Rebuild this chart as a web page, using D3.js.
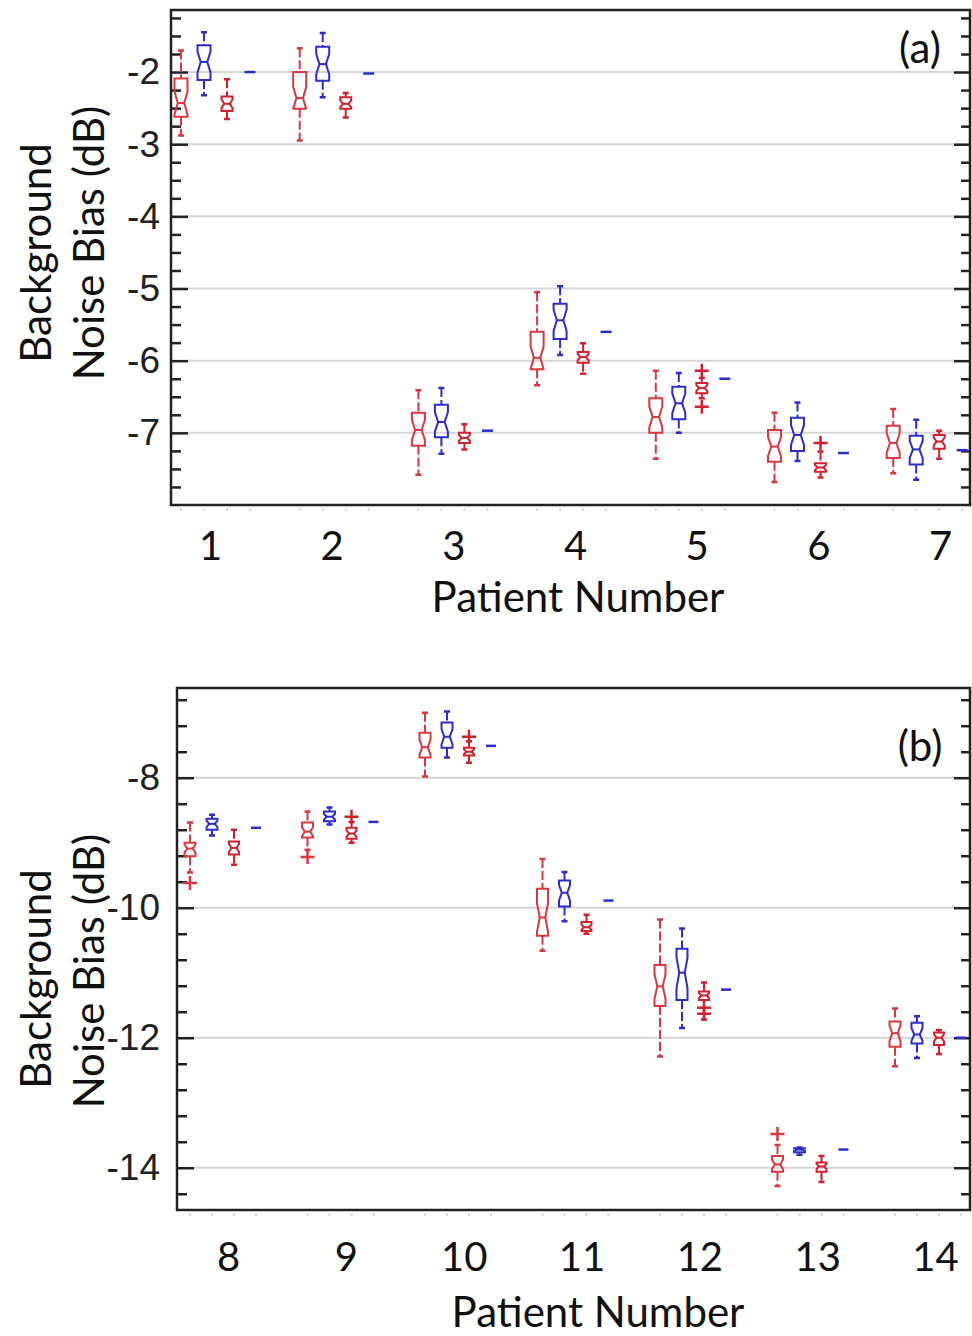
<!DOCTYPE html>
<html>
<head>
<meta charset="utf-8">
<script src="https://cdn.jsdelivr.net/npm/d3@7"></script>
<style>
body { margin: 0; background: #fff; }
svg { display: block; }
</style>
</head>
<body>
<script>
// ---- data ----------------------------------------------------------
// every box: [lower whisker, q1, median, q3, upper whisker]
var patientsA = [1, 2, 3, 4, 5, 6, 7];
var patientsB = [8, 9, 10, 11, 12, 13, 14];

var redA_a = [
    [-2.88, -2.62, -2.43, -2.09, -1.70],
    [-2.95, -2.51, -2.36, -2.00, -1.67],
    [-7.58, -7.18, -6.96, -6.72, -6.41],
    [-6.34, -6.12, -5.96, -5.60, -5.05],
    [-7.36, -7.00, -6.78, -6.52, -6.14],
    [-7.68, -7.40, -7.19, -6.96, -6.72],
    [-7.56, -7.35, -7.14, -6.90, -6.67]
];
var blueB_a = [
    [-2.32, -2.11, -1.86, -1.63, -1.45],
    [-2.35, -2.12, -1.89, -1.65, -1.46],
    [-7.29, -7.06, -6.85, -6.61, -6.38],
    [-5.92, -5.70, -5.44, -5.21, -4.97],
    [-7.00, -6.81, -6.59, -6.36, -6.17],
    [-7.39, -7.25, -7.03, -6.79, -6.58],
    [-7.65, -7.44, -7.23, -7.04, -6.82]
];
var redC_a = [
    [-2.65, -2.54, -2.44, -2.34, -2.10],
    [-2.63, -2.51, -2.44, -2.35, -2.29],
    [-7.23, -7.14, -7.07, -7.00, -6.88],
    [-6.18, -6.03, -5.95, -5.88, -5.76],
    [-6.52, -6.45, -6.38, -6.31, -6.24],
    [-7.62, -7.54, -7.48, -7.42, -7.26],
    [-7.36, -7.22, -7.12, -7.03, -6.97]
];
var outRedC_a = [[], [], [], [], [-6.14, -6.64], [-7.14], []];
var dashD_a = [-2.00, -2.02, -6.97, -5.60, -6.25, -7.28, -7.24];

var redA_b = [
    [-9.46, -9.21, -9.09, -9.00, -8.69],
    [-9.11, -8.92, -8.83, -8.69, -8.52],
    [-7.98, -7.69, -7.53, -7.31, -7.00],
    [-10.66, -10.43, -10.15, -9.71, -9.25],
    [-12.29, -11.51, -11.21, -10.88, -10.18],
    [-14.28, -14.06, -13.95, -13.82, -13.65],
    [-12.44, -12.14, -11.93, -11.75, -11.55]
];
var outRedA_b = [[-9.62], [-9.22], [], [], [], [-13.48], []];
var blueB_b = [
    [-8.89, -8.80, -8.71, -8.63, -8.57],
    [-8.72, -8.67, -8.60, -8.52, -8.46],
    [-7.69, -7.54, -7.37, -7.15, -6.98],
    [-10.21, -9.98, -9.77, -9.58, -9.45],
    [-11.85, -11.42, -11.00, -10.63, -10.32],
    [-13.80, -13.76, -13.72, -13.70, -13.69],
    [-12.31, -12.09, -11.95, -11.77, -11.67]
];
var redC_b = [
    [-9.34, -9.18, -9.08, -8.98, -8.80],
    [-9.00, -8.94, -8.86, -8.77, -8.68],
    [-7.77, -7.66, -7.60, -7.54, -7.44],
    [-10.40, -10.36, -10.30, -10.22, -10.11],
    [-11.72, -11.42, -11.35, -11.29, -11.15],
    [-14.22, -14.06, -13.98, -13.92, -13.82],
    [-12.25, -12.11, -12.00, -11.92, -11.88]
];
var outRedC_b = [[], [-8.60], [-7.37], [], [-11.54, -11.63], [], []];
var dashD_b = [-8.77, -8.68, -7.51, -9.89, -11.26, -13.72, -12.00];

var yTicksA = [-7, -6, -5, -4, -3, -2];
var yTicksB = [-14, -12, -10, -8];

window.onload = function(){

    var RED1 = '#d8383f', RED2 = '#d2202c', BLUE = '#2d2dcf';
    var svg = d3.select(document.body).append('svg')
        .attr('width', 972).attr('height', 1336);

    drawPanel({
        left: 171, top: 10, right: 970, bottom: 505,
        yDomain: [-8.0, -1.14], yTicks: yTicksA,
        minor: minorTicks(-8, -1.2, 0.25, 1),
        patients: patientsA,
        firstBox: 181, groupStep: 118.7, boxStep: 23,
        tickRange: [210, 940], tickPad: 27,
        labelBaseline: 612, labelX: 578,
        titleY: [253, 243], tag: '(a)', tagY: 47,
        series: [
            {stats: redA_a, color: RED1, w: 13, out: null},
            {stats: blueB_a, color: BLUE, w: 13, out: null},
            {stats: redC_a, color: RED2, w: 11, out: outRedC_a}
        ],
        dash: dashD_a, dashW: 11
    });

    drawPanel({
        left: 177, top: 688, right: 970, bottom: 1210,
        yDomain: [-14.65, -6.62], yTicks: yTicksB,
        minor: minorTicks(-14.4, -6.7, 0.4, 2),
        patients: patientsB,
        firstBox: 190, groupStep: 117.5, boxStep: 22,
        tickRange: [228, 935], tickPad: 33,
        labelBaseline: 1327, labelX: 598,
        titleY: [979, 971], tag: '(b)', tagY: 745,
        series: [
            {stats: redA_b, color: RED1, w: 11, out: outRedA_b},
            {stats: blueB_b, color: BLUE, w: 11, out: null},
            {stats: redC_b, color: RED2, w: 10, out: outRedC_b}
        ],
        dash: dashD_b, dashW: 10
    });

    /***********************************************/
    function minorTicks(from, to, step, major){
        return d3.range(from, to, step)
            .map(function(v){ return Math.round(v * 100) / 100; })
            .filter(function(v){ return Math.abs(v / major - Math.round(v / major)) > 0.01; });
    }

    function drawPanel(p){
        var g = svg.append('g');
        var y = d3.scaleLinear().domain(p.yDomain).range([p.bottom, p.top]);
        var n = p.patients.length;
        // box positions (group) and label positions
        var xBox = d3.scaleLinear().domain([p.patients[0], p.patients[n - 1]])
            .range([p.firstBox, p.firstBox + p.groupStep * (n - 1)]);
        var xTick = d3.scaleLinear().domain([p.patients[0], p.patients[n - 1]])
            .range(p.tickRange);

        // grid
        g.append('g').selectAll('line').data(p.yTicks).enter().append('line')
            .attr('x1', p.left).attr('x2', p.right)
            .attr('y1', function(d){ return y(d); })
            .attr('y2', function(d){ return y(d); })
            .style('stroke', '#d6d6d6').style('stroke-width', 2);

        // y axis left + right (major and minor in their own groups)
        var left = g.append('g').attr('transform', 'translate(' + p.left + ',0)')
            .call(d3.axisLeft(y).tickValues(p.yTicks).tickSize(-17).tickPadding(p.left - 160)
                .tickFormat(function(d){ return String(d); }));
        g.append('g').attr('transform', 'translate(' + p.left + ',0)')
            .call(d3.axisLeft(y).tickValues(p.minor).tickSize(-10).tickFormat(''));
        g.append('g').attr('transform', 'translate(' + p.right + ',0)')
            .call(d3.axisRight(y).tickValues(p.yTicks).tickSize(-16).tickFormat(''));
        g.append('g').attr('transform', 'translate(' + p.right + ',0)')
            .call(d3.axisRight(y).tickValues(p.minor).tickSize(-9).tickFormat(''));
        g.selectAll('.domain').remove();
        g.selectAll('.tick line').style('stroke', '#222').style('stroke-width', 2.5);
        left.selectAll('text').style('font-family', '"Liberation Sans", Arial, sans-serif')
            .style('font-size', '37px').style('fill', '#222');

        // faint x ticks under the frame, one per box
        var faint = [];
        p.patients.forEach(function(pt){
            for (var k = 0; k < 4; k++) faint.push(xBox(pt) + k * p.boxStep);
        });
        g.append('g').selectAll('line').data(faint).enter().append('line')
            .attr('x1', function(d){ return d; }).attr('x2', function(d){ return d; })
            .attr('y1', p.bottom + 3).attr('y2', p.bottom + 6)
            .style('stroke', '#dcdcdc').style('stroke-width', 2);

        // x axis labels
        var xa = g.append('g').attr('transform', 'translate(0,' + p.bottom + ')')
            .call(d3.axisBottom(xTick).tickValues(p.patients).tickSize(0).tickPadding(p.tickPad)
                .tickFormat(d3.format('d')));
        xa.select('.domain').remove();
        xa.selectAll('text').style('font-family', 'Lato, sans-serif')
            .style('font-size', '40px').style('fill', '#111');

        // frame
        g.append('rect').attr('x', p.left).attr('y', p.top)
            .attr('width', p.right - p.left).attr('height', p.bottom - p.top)
            .style('fill', 'none').style('stroke', '#222').style('stroke-width', 2.5);

        // boxes
        p.series.forEach(function(s, k){
            var sg = g.append('g').selectAll('g').data(s.stats).enter().append('g')
                .attr('transform', function(d, i){
                    return 'translate(' + (xBox(p.patients[i]) + k * p.boxStep) + ',0)';
                });
            drawBoxes(sg, s, y);
            if (s.out) {
                sg.each(function(d, i){
                    d3.select(this).selectAll('path.out').data(s.out[i]).enter().append('path')
                        .attr('class', 'out')
                        .attr('d', function(v){
                            return 'M-7,' + y(v) + 'H7M0,' + (y(v) - 7) + 'V' + (y(v) + 7);
                        })
                        .style('stroke', s.color).style('stroke-width', 2.5).style('fill', 'none');
                });
            }
        });

        // single value series (blue dash)
        g.append('g').selectAll('line').data(p.dash).enter().append('line')
            .attr('x1', function(d, i){ return xBox(p.patients[i]) + 3 * p.boxStep - p.dashW / 2; })
            .attr('x2', function(d, i){ return xBox(p.patients[i]) + 3 * p.boxStep + p.dashW / 2; })
            .attr('y1', function(d){ return y(d); })
            .attr('y2', function(d){ return y(d); })
            .style('stroke', BLUE).style('stroke-width', 2.5);

        // titles
        g.append('text').attr('x', p.labelX).attr('y', p.labelBaseline)
            .attr('text-anchor', 'middle')
            .style('font-family', 'Lato, sans-serif').style('font-size', '42px').style('fill', '#111')
            .text('Patient Number');
        var ty = [['Background', 35], ['Noise Bias (dB)', 88]];
        ty.forEach(function(t, i){
            g.append('text')
                .attr('transform', 'translate(' + t[1] + ',' + p.titleY[i] + ') rotate(-90)')
                .attr('text-anchor', 'middle').attr('dominant-baseline', 'central')
                .style('font-family', 'Lato, sans-serif').style('font-size', '42px').style('fill', '#111')
                .text(t[0]);
        });
        g.append('text').attr('x', 920).attr('y', p.tagY)
            .attr('text-anchor', 'middle').attr('dominant-baseline', 'central')
            .style('font-family', 'Lato, sans-serif').style('font-size', '42px').style('fill', '#111')
            .text(p.tag);
    }

    function drawBoxes(sel, s, y){
        var hw = s.w / 2;
        var line = d3.line();
        // dashed whiskers
        sel.append('path')
            .attr('d', function(d){
                return 'M0,' + y(d[4]) + 'V' + y(d[3]) + 'M0,' + y(d[1]) + 'V' + y(d[0]);
            })
            .style('stroke', s.color).style('stroke-width', 2)
            .style('stroke-dasharray', '9,3').style('fill', 'none');
        // caps
        sel.append('path')
            .attr('d', function(d){
                return 'M-3,' + y(d[4]) + 'H3M-3,' + y(d[0]) + 'H3';
            })
            .style('stroke', s.color).style('stroke-width', 2.5);
        // notched box
        sel.append('path')
            .attr('d', function(d){
                var nh = (d[3] - d[1]) * 0.3;
                return line([
                    [-hw, y(d[3])], [hw, y(d[3])], [hw, y(d[2] + nh)], [hw / 2, y(d[2])],
                    [hw, y(d[2] - nh)], [hw, y(d[1])], [-hw, y(d[1])], [-hw, y(d[2] - nh)],
                    [-hw / 2, y(d[2])], [-hw, y(d[2] + nh)]
                ]) + 'Z';
            })
            .style('stroke', s.color).style('stroke-width', 2).style('fill', 'none');
        // median
        sel.append('line')
            .attr('x1', -hw / 2).attr('x2', hw / 2)
            .attr('y1', function(d){ return y(d[2]); })
            .attr('y2', function(d){ return y(d[2]); })
            .style('stroke', s.color).style('stroke-width', 2);
    }
}
</script>
</body>
</html>
